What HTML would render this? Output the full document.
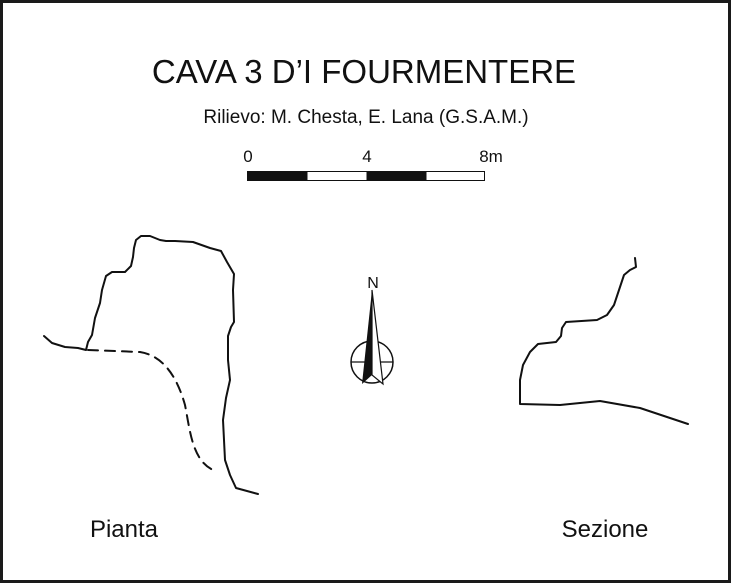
<!DOCTYPE html>
<html><head><meta charset="utf-8"><style>
html,body{margin:0;padding:0;background:#fff}
svg{display:block}
text{font-family:"Liberation Sans",Arial,sans-serif;fill:#111}
</style></head><body>
<svg width="731" height="583" viewBox="0 0 731 583" xmlns="http://www.w3.org/2000/svg">
<rect x="1.5" y="1.5" width="728" height="580" fill="#fff" stroke="#1a1a1a" stroke-width="3"/>
<text x="364" y="83" font-size="33" text-anchor="middle">CAVA 3 D’I FOURMENTERE</text>
<text x="366" y="123" font-size="19" text-anchor="middle">Rilievo: M. Chesta, E. Lana (G.S.A.M.)</text>
<text x="248" y="162" font-size="17" text-anchor="middle">0</text>
<text x="367" y="162" font-size="17" text-anchor="middle">4</text>
<text x="491" y="162" font-size="17" text-anchor="middle">8m</text>
<rect x="247.5" y="171.5" width="237" height="9" fill="#fff" stroke="#111" stroke-width="1"/>
<rect x="247.5" y="171.5" width="60" height="9" fill="#111"/>
<rect x="366.5" y="171.5" width="60" height="9" fill="#111"/>
<g fill="none" stroke="#111" stroke-width="2" stroke-linejoin="round" stroke-linecap="round">
<polyline points="44,336 52,343 65,347 78,348 86,350 88,342 92,335 95,318 100,303 102,290 106,276 112,272 125,272 131,266 133,257 134,248 136,240 141,236 150,236 160,240 166,241 175,241 193,242 210,248 221,251 227,262 234,274 233,290 234,322 231,327 228,336 228,360 230,380 226,398 223,420 224,440 225,460 230,475 236,488 258,494"/>
<path d="M88,350 L140,352 C165,356 178,380 185,405 C190,430 192,460 213,470" stroke-dasharray="10,7"/>
<polyline points="635,258 636,267 630,270 624,275 619,290 614,305 607,315 597,320 566,322 562,328 561,336 556,342 538,344 530,352 523,365 520,380 520,404 560,405 600,401 640,408 688,424"/>
</g>
<text x="373" y="288" font-size="16" text-anchor="middle">N</text>
<circle cx="372" cy="362" r="21" fill="none" stroke="#111" stroke-width="1.5"/>
<line x1="351" y1="362" x2="393" y2="362" stroke="#111" stroke-width="1.3"/>
<path d="M372,290 L362,384 L372,375 Z" fill="#111"/>
<path d="M372,290 L383,384 L372,375 Z" fill="#fff" stroke="#111" stroke-width="1.2"/>
<text x="124" y="537" font-size="24" text-anchor="middle">Pianta</text>
<text x="605" y="537" font-size="24" text-anchor="middle">Sezione</text>
</svg>
</body></html>
